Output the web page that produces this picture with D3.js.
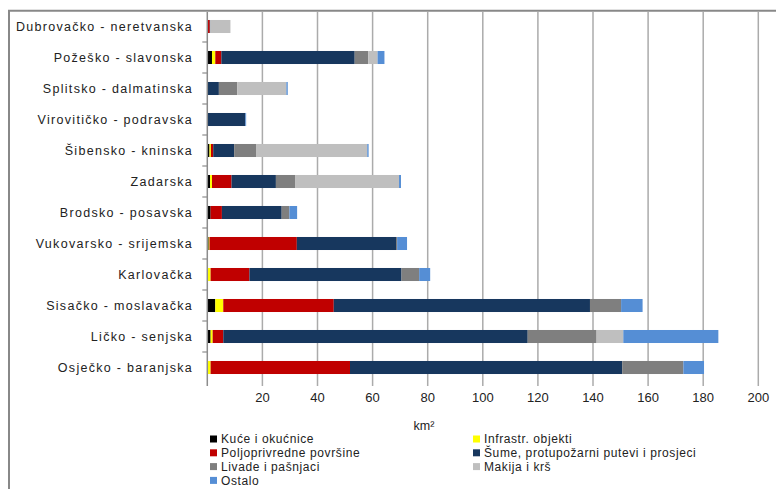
<!DOCTYPE html>
<html>
<head>
<meta charset="utf-8">
<script src="https://cdn.jsdelivr.net/npm/d3@7"></script>
<style>
  html, body { margin: 0; padding: 0; background: #fff; }
  svg { display: block; font-family: "Liberation Sans", Arial, sans-serif; }
</style>
</head>
<body>
<svg id="chart" width="776" height="489"></svg>
<script>
const categories = [
  "Dubrovačko - neretvanska",
  "Požeško - slavonska",
  "Splitsko - dalmatinska",
  "Virovitičko - podravska",
  "Šibensko - kninska",
  "Zadarska",
  "Brodsko - posavska",
  "Vukovarsko - srijemska",
  "Karlovačka",
  "Sisačko - moslavačka",
  "Ličko - senjska",
  "Osječko - baranjska"
];
const seriesNames = [
  "Kuće i okućnice",
  "Infrastr. objekti",
  "Poljoprivredne površine",
  "Šume, protupožarni putevi i prosjeci",
  "Livade i pašnjaci",
  "Makija i krš",
  "Ostalo"
];
const kuce   = [0,   1.7,  0,    0,    0.8,  1.0,  1.2,  0.5,  0,    2.9,  1.2,   0];
const infra  = [0,   1.2,  0,    0,    0.5,  0.7,  0,    0.3,  1.2,  2.9,  0.75,  1.2];
const polj   = [0.9, 2.2,  0,    0,    0.85, 7.1,  4.1,  31.7, 14.1, 40.1, 3.85,  50.6];
const sume   = [0.2, 48.4, 4.2,  13.8, 7.6,  16.1, 21.7, 36.0, 55.2, 93.0, 110.5, 98.8];
const livade = [0,   4.9,  6.7,  0,    8.1,  7.1,  2.8,  0.4,  6.4,  11.3, 25.0,  22.2];
const makija = [7.3, 3.4,  17.8, 0,    40.2, 37.6, 0,    0,    0,    0,    9.7,   0];
const ostalo = [0,   2.5,  0.5,  0.3,  0.5,  0.7,  2.8,  3.6,  4.0,  7.8,  34.5,  7.5];
const xTicks = [20, 40, 60, 80, 100, 120, 140, 160, 180, 200];
const xLabel = "km²";

const colors = ["#000000", "#ffff00", "#c00000", "#17375e", "#7f7f7f", "#bfbfbf", "#558ed5"];
const seriesValues = [kuce, infra, polj, sume, livade, makija, ostalo];

(function () {
const rows = categories.map((c, i) => {
  const r = { cat: c };
  seriesNames.forEach((s, j) => r[s] = seriesValues[j][i]);
  return r;
});

const svg = d3.select("#chart");
const pLeft = 207.3, pRight = 758.3, pTop = 11, pBottom = 383;

const x = d3.scaleLinear().domain([0, 200]).range([pLeft, pRight]);
const y = d3.scaleBand().domain(categories).range([pTop, pBottom]).paddingInner(0.58).paddingOuter(0.29);

// frame
svg.append("line").attr("x1", 9).attr("x2", 9).attr("y1", 10).attr("y2", 489)
  .attr("stroke", "#888").attr("stroke-width", 2);
svg.append("line").attr("x1", 8).attr("x2", 776).attr("y1", 10.8).attr("y2", 10.8)
  .attr("stroke", "#888").attr("stroke-width", 2);

// gridlines + tick labels
svg.append("g").selectAll("line").data(xTicks).join("line")
  .attr("x1", d => x(d)).attr("x2", d => x(d))
  .attr("y1", pTop + 1).attr("y2", pBottom + 3)
  .attr("stroke", "#ababab").attr("stroke-width", 1.5);

svg.append("g").selectAll("text").data(xTicks).join("text")
  .attr("x", d => x(d)).attr("y", 402)
  .attr("text-anchor", "middle")
  .attr("font-size", 13).attr("fill", "#222")
  .text(d => d);

// stacked bars
const stack = d3.stack().keys(seriesNames);
const stacked = stack(rows);
const g = svg.append("g");
stacked.forEach((layer, j) => {
  g.append("g").attr("fill", colors[j]).selectAll("rect").data(layer).join("rect")
    .attr("x", d => x(d[0]))
    .attr("width", d => Math.max(0, x(d[1]) - x(d[0])))
    .attr("y", (d, i) => y(categories[i]))
    .attr("height", y.bandwidth());
});

// y axis line and ticks
svg.append("line").attr("x1", pLeft).attr("x2", pLeft).attr("y1", pTop + 1).attr("y2", pBottom + 3)
  .attr("stroke", "#8c8c8c").attr("stroke-width", 1.5);
const boundaries = d3.range(1, categories.length).map(i => pTop + i * (pBottom - pTop) / categories.length);
svg.append("g").selectAll("line").data(boundaries).join("line")
  .attr("x1", pLeft - 5).attr("x2", pLeft).attr("y1", d => d).attr("y2", d => d)
  .attr("stroke", "#8c8c8c").attr("stroke-width", 1.2);

// category labels
svg.append("g").selectAll("text").data(categories).join("text")
  .attr("x", 193).attr("y", d => y(d) + y.bandwidth() / 2 + 4.5)
  .attr("text-anchor", "end")
  .attr("font-size", 12.5).attr("letter-spacing", 1.3).attr("fill", "#222")
  .text(d => d);

// x label
svg.append("text").attr("x", 424).attr("y", 430).attr("text-anchor", "middle")
  .attr("font-size", 12.5).attr("fill", "#222").text(xLabel);

// legend
const legendX = [210, 473];
const legendY0 = 439, legendDy = 13.8;
const lg = svg.append("g").selectAll("g").data(seriesNames).join("g")
  .attr("transform", (d, i) => `translate(${legendX[i % 2]},${legendY0 + Math.floor(i / 2) * legendDy})`);
lg.append("rect").attr("x", 0).attr("y", -3.5).attr("width", 7).attr("height", 7)
  .attr("fill", (d, i) => colors[i]);
lg.append("text").attr("x", 11).attr("y", 4.2)
  .attr("font-size", 12).attr("letter-spacing", 0.6).attr("fill", "#222")
  .text(d => d);
})();
</script>
</body>
</html>
